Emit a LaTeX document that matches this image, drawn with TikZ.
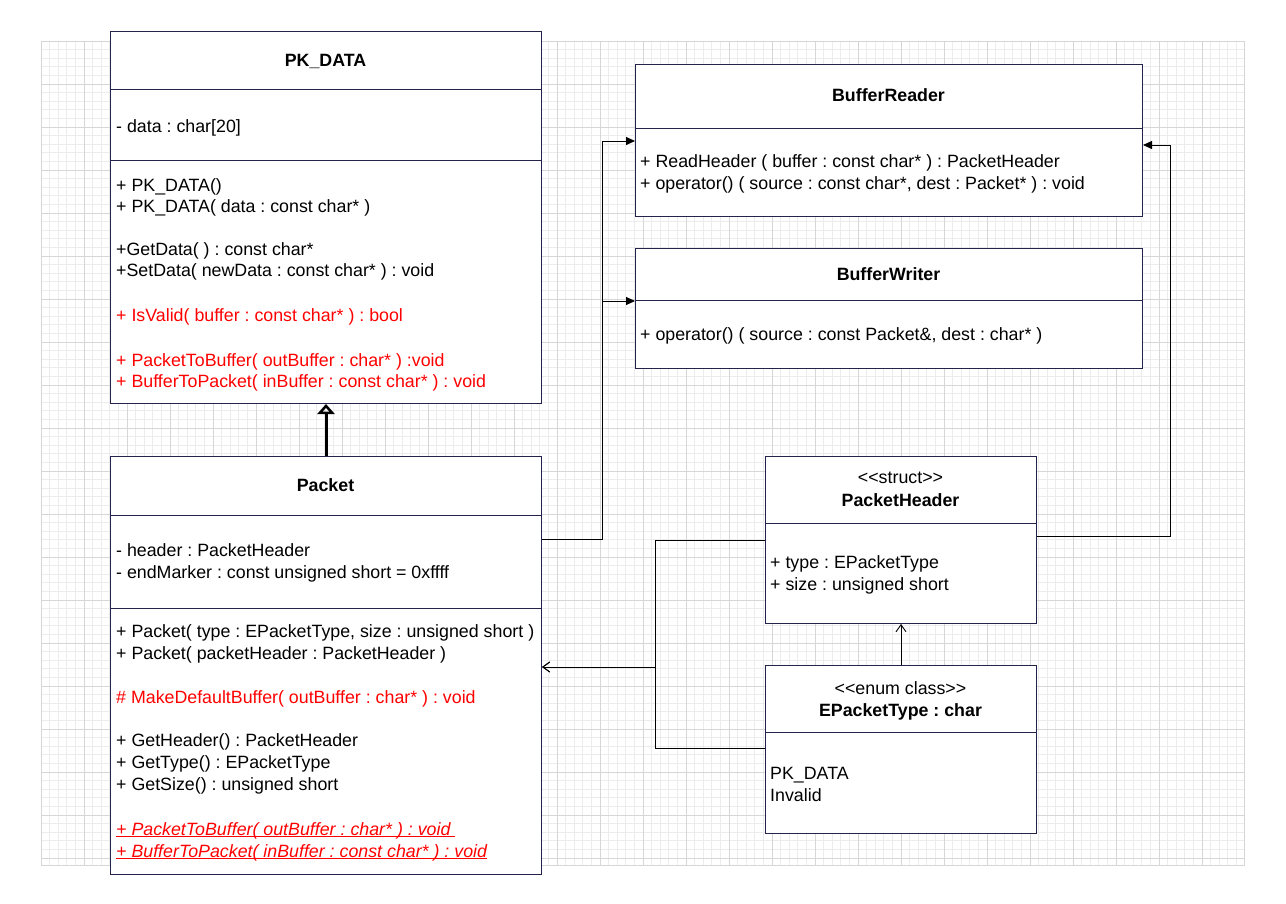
\documentclass[tikz,border=0pt]{standalone}
\usepackage{fontspec}
\setmainfont{Liberation Sans}
\usetikzlibrary{arrows.meta}
\definecolor{navy}{RGB}{35,35,75}
\definecolor{gridminor}{RGB}{236,236,236}
\definecolor{gridmajor}{RGB}{214,214,214}
\definecolor{umlred}{RGB}{255,0,0}
\newcommand\myul[1]{\setbox0\hbox{#1}\rlap{\rule[-2.2pt]{\wd0}{0.9pt}}\box0}
\tikzset{
  box/.style={draw=navy, line width=1pt, fill=white, anchor=north west, inner sep=0pt, rectangle},
  divider/.style={draw=navy, line width=1pt},
  txt/.style={anchor=base west, inner sep=0pt, font=\fontsize{17.8}{22}\selectfont},
  rtxt/.style={txt, text=umlred},
  ttl/.style={anchor=base, inner sep=0pt, font=\fontsize{17.8}{22}\selectfont\bfseries},
  stereo/.style={anchor=base, inner sep=0pt, font=\fontsize{17.8}{22}\selectfont},
  conn/.style={draw=black, line width=0.9pt},
  filledtip/.style={conn, -{Triangle[length=9pt,width=8pt]}},
  opentip/.style={conn, -{Straight Barb[length=7pt,width=10pt,line width=0.9pt]}},
  inherit/.style={draw=black, line width=3pt, -{Triangle[open,length=10pt,width=17pt,line width=2.6pt]}},
}
\begin{document}
\frenchspacing
\begin{tikzpicture}[x=1pt,y=-1pt]
\useasboundingbox[fill=white] (0,0) rectangle (1286,904);
% grid
\foreach \k in {0,...,139} {
  \pgfmathsetmacro\xx{41+8.6*\k}
  \draw[gridminor, line width=0.8pt] (\xx,41) -- (\xx,865);
}
\foreach \k in {0,...,95} {
  \pgfmathsetmacro\yy{41+8.6*\k}
  \draw[gridminor, line width=0.8pt] (41,\yy) -- (1244,\yy);
}
\foreach \k in {0,...,27} {
  \pgfmathsetmacro\xx{41+43*\k}
  \draw[gridmajor, line width=0.8pt] (\xx,41) -- (\xx,865);
}
\foreach \k in {0,...,19} {
  \pgfmathsetmacro\yy{41+43*\k}
  \draw[gridmajor, line width=0.8pt] (41,\yy) -- (1244,\yy);
}
\draw[gridmajor, line width=0.8pt] (41,41) rectangle (1244,865);

% ---------- PK_DATA ----------
\node[box, minimum width=431pt, minimum height=372pt] (pkdata) at (110,31) {};
\draw[divider] (pkdata.west |- 0,90) -- (pkdata.east |- 0,90);
\draw[divider] (pkdata.west |- 0,161) -- (pkdata.east |- 0,161);
\node[ttl] (pkdataT) at (325.5,67) {PK\_DATA};
\node[txt] (pkd1) at (116,133) {- data : char[20]};
\node[txt] (pkd2) at (116,192) {+ PK\_DATA()};
\node[txt] (pkd3) at (116,213) {+ PK\_DATA( data : const char* )};
\node[txt] (pkd4) at (116,256) {+GetData( ) : const char*};
\node[txt] (pkd5) at (116,277) {+SetData( newData : const char* ) : void};
\node[rtxt] (pkd6) at (116,322) {+ IsValid( buffer : const char* ) : bool};
\node[rtxt] (pkd7) at (116,366) {+ PacketToBuffer( outBuffer : char* ) :void};
\node[rtxt] (pkd8) at (116,387) {+ BufferToPacket( inBuffer : const char* ) : void};

% ---------- Packet ----------
\node[box, minimum width=431pt, minimum height=418pt] (packet) at (110,456) {};
\draw[divider] (packet.west |- 0,515) -- (packet.east |- 0,515);
\draw[divider] (packet.west |- 0,608) -- (packet.east |- 0,608);
\node[ttl] (packetT) at (325.5,491) {Packet};
\node[txt] (pk1) at (116,556) {- header : PacketHeader};
\node[txt] (pk2) at (116,578) {- endMarker : const unsigned short = 0xffff};
\node[txt] (pk3) at (116,637) {+ Packet( type : EPacketType, size : unsigned short )};
\node[txt] (pk4) at (116,659) {+ Packet( packetHeader : PacketHeader )};
\node[rtxt] (pk5) at (116,703) {\# MakeDefaultBuffer( outBuffer : char* ) : void};
\node[txt] (pk6) at (116,746) {+ GetHeader() : PacketHeader};
\node[txt] (pk7) at (116,768) {+ GetType() : EPacketType};
\node[txt] (pk8) at (116,790) {+ GetSize() : unsigned short};
\node[rtxt, font=\fontsize{17.8}{22}\selectfont\itshape] (pk9) at (116,835) {\myul{+ PacketToBuffer( outBuffer : char* ) : void\ }};
\node[rtxt, font=\fontsize{17.8}{22}\selectfont\itshape] (pk10) at (116,857) {\myul{+ BufferToPacket( inBuffer : const char* ) : void}};

% ---------- BufferReader ----------
\node[box, minimum width=507pt, minimum height=152pt] (reader) at (635,64) {};
\draw[divider] (reader.west |- 0,129) -- (reader.east |- 0,129);
\node[ttl] (readerT) at (888.5,102) {BufferReader};
\node[txt] (rd1) at (640,168) {+ ReadHeader ( buffer : const char* ) : PacketHeader};
\node[txt] (rd2) at (640,190) {+ operator() ( source : const char*, dest : Packet* ) : void};

% ---------- BufferWriter ----------
\node[box, minimum width=507pt, minimum height=120pt] (writer) at (635,248) {};
\draw[divider] (writer.west |- 0,301) -- (writer.east |- 0,301);
\node[ttl] (writerT) at (888.5,281) {BufferWriter};
\node[txt] (wr1) at (640,341) {+ operator() ( source : const Packet\&, dest : char* )};

% ---------- PacketHeader ----------
\node[box, minimum width=271pt, minimum height=167pt] (header) at (765,456) {};
\draw[divider] (header.west |- 0,523) -- (header.east |- 0,523);
\node[stereo] (headerS) at (900.5,483) {<\kern0pt<struct>\kern0pt>};
\node[ttl] (headerT) at (900.5,506) {PacketHeader};
\node[txt] (hd1) at (770,568) {+ type : EPacketType};
\node[txt] (hd2) at (770,590) {+ size : unsigned short};

% ---------- EPacketType ----------
\node[box, minimum width=271pt, minimum height=168pt] (etype) at (765,665) {};
\draw[divider] (etype.west |- 0,732) -- (etype.east |- 0,732);
\node[stereo] (etypeS) at (900.5,694) {<\kern0pt<enum class>\kern0pt>};
\node[ttl] (etypeT) at (900.5,716) {EPacketType : char};
\node[txt] (et1) at (770,779) {PK\_DATA};
\node[txt] (et2) at (770,801) {Invalid};

% ---------- connectors ----------
\coordinate (split) at (602,539);
\coordinate (join) at (655,667);
\draw[inherit] (packet.north) -- (pkdata.south);
\draw[filledtip] (packet.east |- split) -- (split) -- (split |- 0,141) -- (reader.west |- 0,141);
\draw[filledtip] (packet.east |- split) -- (split) -- (split |- 0,301) -- (writer.west |- 0,301);
\draw[filledtip] (header.east |- 0,536) -- (1170,536) -- (1170,145) -- (reader.east |- 0,145);
\draw[opentip] (etype.north) -- (header.south);
\draw[opentip] (header.west |- 0,540) -- (join |- 0,540) -- (join) -- (packet.east |- join);
\draw[opentip] (etype.west |- 0,748) -- (join |- 0,748) -- (join) -- (packet.east |- join);
\end{tikzpicture}
\end{document}
